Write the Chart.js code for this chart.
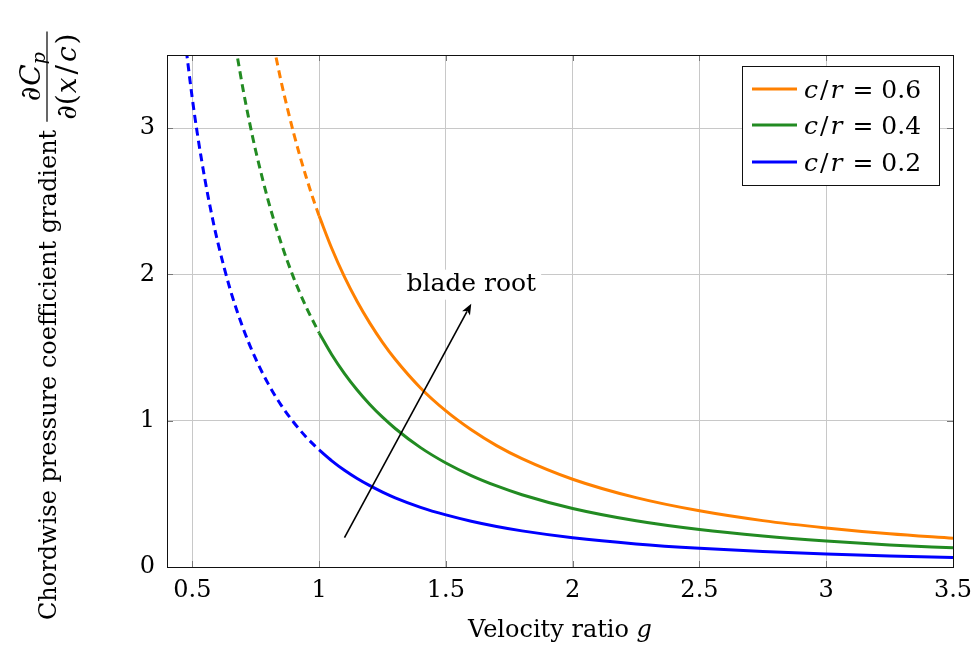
<!DOCTYPE html>
<html>
<head>
<meta charset="utf-8">
<script src="https://cdn.jsdelivr.net/npm/chart.js@4.4.1/dist/chart.umd.min.js"></script>
<style>
  html, body { margin: 0; padding: 0; background: #fff; }
  canvas { display: block; }
</style>
</head>
<body>
<canvas id="chart" width="975" height="652"></canvas>
<script>
// tick labels
const xTicks = [0.5, 1, 1.5, 2, 2.5, 3, 3.5];
const yTicks = [0, 1, 2, 3];

// velocity ratio g, solid part (g >= 1)
const gSolid = [1, 1.05, 1.1, 1.15, 1.2, 1.25, 1.3, 1.4, 1.5, 1.6, 1.7, 1.8, 2, 2.25, 2.5, 2.75, 3, 3.25, 3.5];
const cr06Solid = [2.4, 2.177, 1.983, 1.815, 1.667, 1.536, 1.42, 1.224, 1.067, 0.938, 0.83, 0.741, 0.6, 0.474, 0.384, 0.317, 0.267, 0.227, 0.196];
const cr04Solid = [1.6, 1.451, 1.322, 1.21, 1.111, 1.024, 0.947, 0.816, 0.711, 0.625, 0.554, 0.494, 0.4, 0.316, 0.256, 0.212, 0.178, 0.151, 0.131];
const cr02Solid = [0.8, 0.726, 0.661, 0.605, 0.556, 0.512, 0.473, 0.408, 0.356, 0.313, 0.277, 0.247, 0.2, 0.158, 0.128, 0.106, 0.089, 0.076, 0.065];

// dashed part (g < 1)
const gDash06 = [0.82, 0.85, 0.875, 0.9, 0.925, 0.95, 0.975, 1];
const cr06Dash = [3.57, 3.32, 3.135, 2.963, 2.805, 2.659, 2.524, 2.4];
const gDash04 = [0.67, 0.7, 0.725, 0.75, 0.8, 0.85, 0.9, 0.95, 1];
const cr04Dash = [3.564, 3.265, 3.044, 2.844, 2.5, 2.215, 1.975, 1.773, 1.6];
const gDash02 = [0.47, 0.5, 0.52, 0.55, 0.575, 0.6, 0.65, 0.7, 0.75, 0.8, 0.85, 0.9, 0.95, 1];
const cr02Dash = [3.62, 3.2, 2.959, 2.645, 2.42, 2.222, 1.893, 1.633, 1.422, 1.25, 1.107, 0.988, 0.886, 0.8];

const seriesValues = ['0.6', '0.4', '0.2'];
const seriesColors = ['rgb(255,128,0)', 'rgb(34,139,34)', 'rgb(0,0,255)'];

// annotation arrow (data coords)
const arrowFrom = [1.1, 0.2];
const arrowTo = [1.6, 1.8];
const noteText = 'blade root';
const notePos = [1.6, 1.93];

const SERIF = '"DejaVu Serif", serif';

function pts(xs, ys) {
    return xs.map((x, i) => ({ x: x, y: ys[i] }));
}

function lineSet(data, color, dashed) {
    return {
        data: data,
        borderColor: color,
        borderWidth: 3,
        borderDash: dashed ? [8, 5] : [],
        pointRadius: 0,
        cubicInterpolationMode: 'monotone',
        fill: false
    };
}

// draw a run of text pieces, returns total width
function drawRun(ctx, parts, x, y, measureOnly) {
    let cx = x;
    parts.forEach(p => {
        ctx.font = (p.it ? 'italic ' : '') + (p.size || 25) + 'px ' + SERIF;
        if (!measureOnly) ctx.fillText(p.t, cx, y + (p.dy || 0));
        cx += ctx.measureText(p.t).width + (p.gap || 0);
    });
    return cx - x;
}

const decorations = {
    id: 'decorations',
    afterDraw(chart) {
        const ctx = chart.ctx;
        const area = chart.chartArea;
        const xs = chart.scales.x;
        const ys = chart.scales.y;

        ctx.save();
        // inward tick marks
        ctx.strokeStyle = '#777';
        ctx.lineWidth = 1;
        ctx.beginPath();
        xs.ticks.forEach(t => {
            const px = Math.round(xs.getPixelForValue(t.value)) + 0.5;
            ctx.moveTo(px, area.bottom); ctx.lineTo(px, area.bottom - 6);
            ctx.moveTo(px, area.top); ctx.lineTo(px, area.top + 6);
        });
        ys.ticks.forEach(t => {
            const py = Math.round(ys.getPixelForValue(t.value)) + 0.5;
            ctx.moveTo(area.left, py); ctx.lineTo(area.left + 6, py);
            ctx.moveTo(area.right, py); ctx.lineTo(area.right - 6, py);
        });
        ctx.stroke();

        // frame
        ctx.strokeStyle = '#111';
        ctx.strokeRect(Math.round(area.left) + 0.5, Math.round(area.top) + 0.5,
            Math.round(area.right - area.left), Math.round(area.bottom - area.top));

        // arrow
        const x0 = xs.getPixelForValue(arrowFrom[0]), y0 = ys.getPixelForValue(arrowFrom[1]);
        const x1 = xs.getPixelForValue(arrowTo[0]), y1 = ys.getPixelForValue(arrowTo[1]);
        const ang = Math.atan2(y1 - y0, x1 - x0);
        const hl = 11, hw = 4.5;
        ctx.strokeStyle = '#000';
        ctx.fillStyle = '#000';
        ctx.lineWidth = 1.6;
        ctx.beginPath();
        ctx.moveTo(x0, y0);
        ctx.lineTo(x1 - Math.cos(ang) * hl * 0.8, y1 - Math.sin(ang) * hl * 0.8);
        ctx.stroke();
        ctx.beginPath();
        ctx.moveTo(x1, y1);
        ctx.lineTo(x1 - Math.cos(ang) * hl + Math.sin(ang) * hw, y1 - Math.sin(ang) * hl - Math.cos(ang) * hw);
        ctx.lineTo(x1 - Math.cos(ang) * hl * 0.75, y1 - Math.sin(ang) * hl * 0.75);
        ctx.lineTo(x1 - Math.cos(ang) * hl - Math.sin(ang) * hw, y1 - Math.sin(ang) * hl + Math.cos(ang) * hw);
        ctx.closePath();
        ctx.fill();

        // note label with white background
        const nx = xs.getPixelForValue(notePos[0]), ny = ys.getPixelForValue(notePos[1]);
        ctx.font = '25px ' + SERIF;
        const nw = ctx.measureText(noteText).width;
        ctx.fillStyle = '#fff';
        ctx.fillRect(nx - nw / 2 - 5, ny - 15, nw + 10, 30);
        ctx.fillStyle = '#000';
        ctx.textAlign = 'center';
        ctx.textBaseline = 'middle';
        ctx.fillText(noteText, nx, ny);

        // legend
        ctx.textAlign = 'left';
        ctx.textBaseline = 'alphabetic';
        const lw = 197, lh = 119;
        const lx = area.right - 14 - lw, ly = area.top + 11;
        ctx.fillStyle = '#fff';
        ctx.fillRect(lx, ly, lw, lh);
        ctx.strokeStyle = '#111';
        ctx.lineWidth = 1;
        ctx.strokeRect(Math.round(lx) + 0.5, Math.round(ly) + 0.5, lw, lh);
        const rowY = [23, 59, 96];
        seriesValues.forEach((v, i) => {
            const ry = ly + rowY[i];
            ctx.strokeStyle = seriesColors[i];
            ctx.lineWidth = 3;
            ctx.beginPath();
            ctx.moveTo(lx + 10, ry); ctx.lineTo(lx + 55, ry);
            ctx.stroke();
            ctx.fillStyle = '#000';
            drawRun(ctx, [
                { t: 'c', it: true, gap: 2 },
                { t: '/', gap: 2 },
                { t: 'r', it: true, gap: 10 },
                { t: '=', gap: 8 },
                { t: v }
            ], lx + 62, ry + 9);
        });

        // x axis title
        ctx.fillStyle = '#000';
        const xParts = [{ t: 'Velocity ratio ', size: 24 }, { t: 'g', it: true, size: 24 }];
        const xw = drawRun(ctx, xParts, 0, 0, true);
        drawRun(ctx, xParts, (area.left + area.right) / 2 - xw / 2, 637);

        // y axis title with fraction
        ctx.translate(56, 620);
        ctx.rotate(-Math.PI / 2);
        ctx.font = '24px ' + SERIF;
        const mainText = 'Chordwise pressure coefficient gradient';
        ctx.fillText(mainText, 0, 0);
        const mw = ctx.measureText(mainText).width;
        const num = [
            { t: '\u2202', it: true, size: 28, gap: 1 },
            { t: 'C', it: true, size: 28, gap: 0 },
            { t: 'p', it: true, size: 19, dy: 5 }
        ];
        const den = [
            { t: '\u2202(', size: 28, gap: 1 },
            { t: 'x', it: true, size: 28, gap: 3 },
            { t: '/', size: 28, gap: 3 },
            { t: 'c', it: true, size: 28, gap: 2 },
            { t: ')', size: 28 }
        ];
        const numW = drawRun(ctx, num, 0, 0, true);
        const denW = drawRun(ctx, den, 0, 0, true);
        const fx = mw + 8;
        const barLen = Math.max(numW, denW) + 4;
        ctx.strokeStyle = '#000';
        ctx.lineWidth = 1.2;
        ctx.beginPath();
        ctx.moveTo(fx, -9); ctx.lineTo(fx + barLen, -9);
        ctx.stroke();
        drawRun(ctx, num, fx + (barLen - numW) / 2, -16);
        drawRun(ctx, den, fx + (barLen - denW) / 2, 20);
        ctx.restore();
    }
};

const ctx = document.getElementById('chart').getContext('2d');
new Chart(ctx, {
    type: 'line',
    data: {
        datasets: [
            lineSet(pts(gDash06, cr06Dash), seriesColors[0], true),
            lineSet(pts(gSolid, cr06Solid), seriesColors[0], false),
            lineSet(pts(gDash04, cr04Dash), seriesColors[1], true),
            lineSet(pts(gSolid, cr04Solid), seriesColors[1], false),
            lineSet(pts(gDash02, cr02Dash), seriesColors[2], true),
            lineSet(pts(gSolid, cr02Solid), seriesColors[2], false)
        ]
    },
    options: {
        responsive: false,
        animation: false,
        layout: { padding: { top: 55, right: 22, left: 0, bottom: 0 } },
        plugins: { legend: { display: false }, tooltip: { enabled: false } },
        scales: {
            x: {
                type: 'linear',
                min: 0.4,
                max: 3.5,
                afterBuildTicks: s => { s.ticks = xTicks.map(v => ({ value: v })); },
                afterFit: s => { s.height = 85; s.paddingLeft = 0; s.paddingRight = 0; },
                grid: { color: '#c8c8c8', drawTicks: false },
                border: { display: false },
                ticks: {
                    padding: 9,
                    color: '#000',
                    font: { family: SERIF, size: 24 },
                    callback: v => String(v)
                }
            },
            y: {
                type: 'linear',
                min: 0,
                max: 3.5,
                afterBuildTicks: s => { s.ticks = yTicks.map(v => ({ value: v })); },
                afterFit: s => { s.width = 167; s.paddingTop = 0; s.paddingBottom = 0; },
                grid: { color: '#c8c8c8', drawTicks: false },
                border: { display: false },
                ticks: {
                    padding: 12,
                    color: '#000',
                    font: { family: SERIF, size: 24 },
                    callback: v => String(v)
                }
            }
        }
    },
    plugins: [decorations]
});
</script>
</body>
</html>
